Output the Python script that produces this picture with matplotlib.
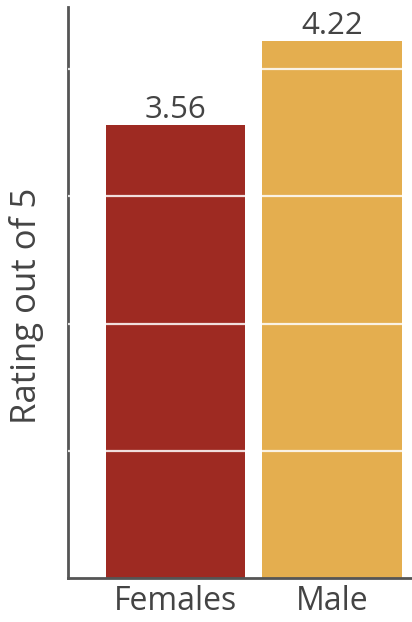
import matplotlib
matplotlib.use("Agg")
import matplotlib.pyplot as plt

categories = ["Females", "Male"]
values = [3.56, 4.22]
colors = ["#9E2A22", "#E4AE4F"]
grid_levels = [1, 2, 3, 4]
y_label = "Rating out of 5"

plt.rcParams['font.family'] = ['Open Sans', 'DejaVu Sans']
text_color = "#444444"

W, H = 412, 622
fig = plt.figure(figsize=(W/100, H/100), dpi=100)
ax = fig.add_axes([68/W, 44/H, 1 - 68/W, (578 - 7)/H])

x = list(range(len(categories)))
ax.bar(x, values, width=0.89, color=colors, zorder=2)

for g in grid_levels:
    ax.axhline(g, color="white", lw=1.6, alpha=0.85, zorder=3)

for xi, v in zip(x, values):
    ax.annotate(f"{v:.2f}", (xi, v), xytext=(0, 5), textcoords="offset points",
                ha="center", va="baseline", fontsize=22.5, color=text_color, zorder=4)

ax.set_xlim(-0.688, 1.511)
ax.set_ylim(0, 4.49)
ax.set_xticks(x)
ax.set_xticklabels(categories, fontsize=23, color=text_color)
ax.set_yticks([])
ax.tick_params(axis="x", length=0, pad=5)

fig.text(27/W, 1 - 306/H, y_label, rotation=90, ha="center", va="center",
         fontsize=25, color=text_color)

for s in ["top", "right"]:
    ax.spines[s].set_visible(False)
for s in ["left", "bottom"]:
    ax.spines[s].set_color("#555555")
    ax.spines[s].set_linewidth(2)

fig.savefig("out.png", dpi=100)
